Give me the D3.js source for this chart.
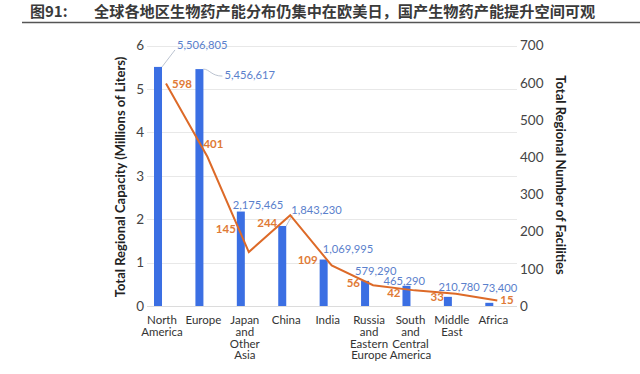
<!DOCTYPE html>
<html><head><meta charset="utf-8">
<script src="https://cdn.jsdelivr.net/npm/d3@7"></script>
<style>body{margin:0;background:#fff}svg{display:block}</style>
</head><body>
<script>
const categories = [["North","America"],["Europe"],["Japan","and","Other","Asia"],["China"],["India"],["Russia","and","Eastern","Europe"],["South","and","Central","America"],["Middle","East"],["Africa"]];
const capacity = [5506805, 5456617, 2175465, 1843230, 1069995, 579290, 465290, 210780, 73400];
const facilities = [598, 401, 145, 244, 109, 56, 42, 33, 15];
const leftTicks = [0,1,2,3,4,5,6];
const rightTicks = [0,100,200,300,400,500,600,700];
const titleNum = "图91:";
const titleText = "全球各地区生物药产能分布仍集中在欧美日，国产生物药产能提升空间可观";
const leftTitle = "Total Regional Capacity (Millions of Liters)";
const rightTitle = "Total Regional Number of Facilities";

// label placement (offsets relative to mark anchors)
const capLabelOff = [[15,-21],[21,7],[-12,-5],[5,-15],[-5,-9],[-14,-9],[-27,-4],[-13.5,-9],[-11,-14]];
const facLabelOff = [[6,2,"start"],[-4,-12,"start"],[-13,-22,"end"],[-13,9,"end"],[-14,-4,"end"],[-13,-1,"end"],[-14,4,"end"],[-12,4,"end"],[3,1,"start"]];

const W=640,H=374;
const svg=d3.select("body").append("svg").attr("width",W).attr("height",H);
const font="Lato, 'Open Sans', sans-serif";

// title
svg.append("text").attr("x",30).attr("y",17).attr("font-family","'Noto Sans CJK SC'").attr("font-weight","bold").attr("font-size",15).attr("fill","#3a3a3a").text(titleNum);
svg.append("text").attr("x",94).attr("y",17).attr("font-family","'Noto Sans CJK SC'").attr("font-weight","bold").attr("font-size",15.2).attr("fill","#3a3a3a").text(titleText);
svg.append("line").attr("x1",22).attr("x2",640).attr("y1",22.5).attr("y2",22.5).attr("stroke","#555").attr("stroke-width",1.5);

const x=d3.scaleBand().domain(d3.range(categories.length)).range([141.3,514]).padding(0);
const cx=i=>x(i)+x.bandwidth()/2;
const yL=d3.scaleLinear().domain([0,6]).range([306,45.5]);
const yR=d3.scaleLinear().domain([0,700]).range([306,45.5]);

// gridlines
svg.append("g").selectAll("line").data(leftTicks).join("line")
  .attr("x1",147).attr("x2",517).attr("y1",d=>Math.round(yL(d))+0.5).attr("y2",d=>Math.round(yL(d))+0.5)
  .attr("stroke",d=>d===0?"#dcdcdc":"#e8e8e8").attr("stroke-width",1);

// left axis
const gL=svg.append("g").attr("transform","translate(144,0)").call(d3.axisLeft(yL).tickValues(leftTicks).tickSize(0).tickPadding(0).tickFormat(d3.format("d")));
gL.select(".domain").remove();
gL.selectAll("text").attr("font-family",font).attr("font-size",13.5).attr("fill","#444");
// right axis
const gR=svg.append("g").attr("transform","translate(520,0)").call(d3.axisRight(yR).tickValues(rightTicks).tickSize(0).tickPadding(0).tickFormat(d3.format("d")));
gR.select(".domain").remove();
gR.selectAll("text").attr("font-family",font).attr("font-size",13.5).attr("fill","#444");

// axis titles
svg.append("text").attr("transform","translate(125,177) rotate(-90)").attr("text-anchor","middle")
  .attr("font-family",font).attr("font-weight","bold").attr("font-size",13).attr("fill","#222").text(leftTitle);
svg.append("text").attr("transform","translate(556,175) rotate(90)").attr("text-anchor","middle")
  .attr("font-family",font).attr("font-weight","bold").attr("font-size",13).attr("fill","#222").text(rightTitle);

// bars
svg.append("g").selectAll("rect").data(capacity).join("rect")
  .attr("x",(d,i)=>cx(i)-8).attr("width",8)
  .attr("y",d=>yL(d/1e6)).attr("height",d=>yL(0)-yL(d/1e6))
  .attr("fill","#3b6fe3");

// category labels
const cat=svg.append("g").selectAll("text").data(categories).join("text")
  .attr("x",(d,i)=>cx(i)).attr("y",324).attr("text-anchor","middle")
  .attr("font-family",font).attr("font-size",11.5).attr("fill","#333");
cat.selectAll("tspan").data(d=>d).join("tspan").attr("x",function(){return this.parentNode.getAttribute("x");})
  .attr("dy",(d,j)=>j===0?0:11.8).text(d=>d);

// leader lines for capacity labels
const leaders=[0,1,3];
svg.append("g").selectAll("path").data(leaders).join("path")
  .attr("d",i=>{
    const bx=cx(i), by=yL(capacity[i]/1e6);
    const [dx,dy]=capLabelOff[i];
    if(i===0) return `M${bx},${by}L${bx+dx-2},${by+dy+4}`;
    if(i===1) return `M${bx},${by}C${bx+6},${by} ${bx+8},${by+dy} ${bx+dx-2},${by+dy}`;
    return `M${bx},${by}L${bx+dx+1},${by+dy+4}`;
  }).attr("fill","none").attr("stroke","#aab4c4").attr("stroke-width",0.8);

// line
const pts=facilities.map((d,i)=>[cx(i)+4,yR(d)]);
svg.append("path").datum(pts).attr("d",d3.line()).attr("fill","none").attr("stroke","#dd6a28").attr("stroke-width",2);

// capacity labels
svg.append("g").selectAll("text").data(capacity).join("text")
  .attr("x",(d,i)=>cx(i)+capLabelOff[i][0]).attr("y",(d,i)=>yL(d/1e6)+capLabelOff[i][1])
  .attr("dominant-baseline","middle")
  .attr("font-family",font).attr("font-size",11.2).attr("fill","#5a80cc").text(d=>d3.format(",")(d));

// facility labels
svg.append("g").selectAll("text").data(facilities).join("text")
  .attr("x",(d,i)=>pts[i][0]+facLabelOff[i][0]).attr("y",(d,i)=>pts[i][1]+facLabelOff[i][1])
  .attr("text-anchor",(d,i)=>facLabelOff[i][2]).attr("dominant-baseline","middle")
  .attr("font-family",font).attr("font-weight","bold").attr("font-size",11.5).attr("fill","#e07a36").text(d=>d);
</script>
</body></html>
